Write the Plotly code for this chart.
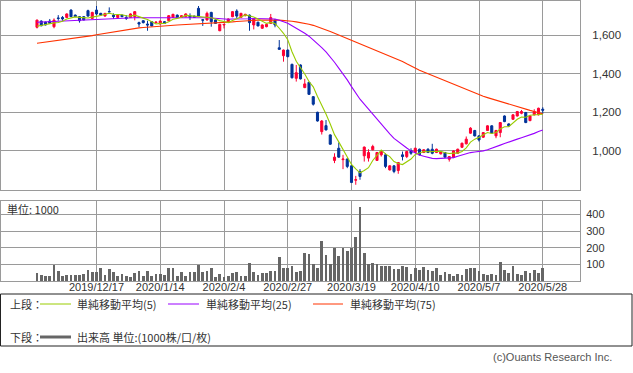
import plotly.graph_objects as go

# ---------------- data ----------------
opens = [1640, 1672, 1667, 1672, 1643, 1688, 1691, 1691, 1729, 1703,
         1695, 1695, 1726, 1686, 1729, 1712, 1698, 1721, 1703, 1691,
         1703, 1691, 1691, 1695, 1664, 1674, 1657, 1669, 1664, 1657,
         1669, 1674, 1691, 1703, 1691, 1695, 1700, 1698, 1738, 1679,
         1678, 1717, 1678, 1622, 1652, 1665, 1695, 1724, 1691, 1700,
         1703, 1652, 1666, 1635, 1643, 1660, 1678, 1534, 1493, 1522,
         1448, 1376, 1445, 1328, 1355, 1281, 1200, 1100, 1131, 1083,
         951, 1014, 955, 958, 923, 849, 894, 975, 963, 1006,
         951, 980, 980, 902, 923, 899, 980, 971, 1002, 992,
         1009, 992, 1009, 1009, 992, 985, 992, 957, 966, 988,
         1019, 1037, 1092, 1106, 1078, 1071, 1106, 1130, 1078, 1095,
         1181, 1140, 1164, 1181, 1195, 1199, 1157, 1187, 1187, 1216]
highs = [1680, 1676, 1669, 1683, 1686, 1703, 1698, 1712, 1733, 1706,
         1698, 1698, 1731, 1720, 1750, 1715, 1714, 1743, 1712, 1706,
         1706, 1703, 1712, 1724, 1669, 1677, 1674, 1672, 1669, 1675,
         1672, 1703, 1710, 1706, 1703, 1712, 1712, 1700, 1750, 1683,
         1721, 1720, 1681, 1658, 1657, 1686, 1724, 1733, 1715, 1710,
         1706, 1686, 1669, 1655, 1658, 1709, 1681, 1574, 1525, 1525,
         1452, 1445, 1448, 1373, 1358, 1284, 1203, 1160, 1160, 1086,
         988, 1044, 980, 962, 926, 871, 906, 1023, 1009, 1032,
         995, 1002, 988, 926, 926, 943, 997, 1000, 1014, 1017,
         1012, 1009, 1014, 1037, 1012, 1000, 995, 974, 1003, 1012,
         1043, 1075, 1123, 1109, 1081, 1098, 1133, 1133, 1109, 1150,
         1184, 1143, 1190, 1207, 1212, 1202, 1184, 1216, 1224, 1226]
lows = [1634, 1645, 1650, 1658, 1635, 1674, 1674, 1688, 1693, 1693,
        1664, 1676, 1695, 1683, 1703, 1700, 1695, 1718, 1683, 1688,
        1692, 1678, 1688, 1676, 1640, 1660, 1622, 1645, 1660, 1655,
        1657, 1672, 1688, 1688, 1688, 1692, 1678, 1688, 1695, 1647,
        1674, 1643, 1657, 1620, 1634, 1662, 1692, 1686, 1688, 1697,
        1622, 1629, 1645, 1632, 1640, 1657, 1640, 1524, 1462, 1485,
        1375, 1359, 1370, 1325, 1290, 1235, 1152, 1085, 1106, 1032,
        937, 965, 906, 911, 834, 825, 851, 945, 945, 1003,
        948, 971, 911, 899, 885, 882, 951, 963, 980, 989,
        977, 989, 989, 983, 989, 982, 965, 945, 963, 985,
        1016, 1034, 1089, 1075, 1049, 1068, 1103, 1089, 1066, 1071,
        1149, 1127, 1161, 1178, 1190, 1144, 1154, 1184, 1184, 1192]
closes = [1677, 1648, 1652, 1660, 1677, 1686, 1683, 1709, 1695, 1695,
          1674, 1678, 1698, 1717, 1709, 1703, 1712, 1720, 1695, 1703,
          1695, 1686, 1709, 1721, 1657, 1664, 1652, 1647, 1667, 1672,
          1660, 1700, 1707, 1691, 1700, 1709, 1691, 1691, 1698, 1677,
          1712, 1669, 1660, 1655, 1655, 1683, 1721, 1698, 1712, 1707,
          1664, 1683, 1647, 1652, 1655, 1690, 1652, 1526, 1522, 1488,
          1379, 1405, 1373, 1347, 1293, 1242, 1155, 1155, 1109, 1035,
          968, 968, 958, 920, 837, 851, 868, 1020, 992, 1023,
          992, 997, 920, 923, 894, 940, 971, 997, 988, 1014,
          980, 1006, 992, 988, 1009, 997, 968, 971, 1000, 1009,
          1040, 1061, 1118, 1078, 1057, 1095, 1130, 1092, 1106, 1147,
          1152, 1130, 1187, 1204, 1204, 1147, 1181, 1204, 1221, 1211]
volumes = [49, 37, 33, 33, 99, 63, 33, 37, 37, 37,
           37, 41, 69, 57, 57, 77, 39, 73, 57, 29,
           43, 33, 23, 51, 63, 33, 63, 29, 45, 45,
           39, 81, 77, 33, 53, 33, 53, 53, 99, 53,
           63, 81, 27, 41, 23, 33, 47, 57, 29, 33,
           111, 57, 39, 51, 51, 63, 63, 147, 81, 79,
           93, 57, 58, 171, 160, 100, 80, 239, 155, 100,
           201, 149, 201, 179, 201, 263, 442, 167, 100, 111,
           105, 92, 88, 90, 72, 72, 92, 84, 42, 78,
           66, 84, 66, 60, 78, 36, 54, 42, 30, 42,
           36, 72, 78, 78, 60, 42, 36, 42, 36, 113,
           66, 48, 90, 42, 36, 60, 48, 66, 48, 78]
ma5 = [1645, 1650, 1655, 1658, 1662.8, 1664.6, 1671.6, 1683, 1690, 1693.6,
       1691.2, 1690.2, 1688, 1692.4, 1695.2, 1701, 1707.8, 1712.2, 1707.8, 1706.6,
       1705, 1699.8, 1697.6, 1702.8, 1693.6, 1687.4, 1680.6, 1668.2, 1657.4, 1660.4,
       1659.6, 1669.2, 1681.2, 1686, 1691.6, 1701.4, 1699.6, 1696.4, 1697.8, 1693.2,
       1693.8, 1689.4, 1683.2, 1674.6, 1670.2, 1664.4, 1674.8, 1682.4, 1693.8, 1704.2,
       1700.4, 1692.8, 1682.6, 1670.6, 1660.2, 1665.4, 1659.2, 1635, 1609, 1575.6,
       1513.4, 1464, 1433.4, 1398.4, 1359.4, 1332, 1282, 1238.4, 1190.8, 1139.2,
       1084.4, 1047, 1007.6, 969.8, 930.2, 906.8, 886.8, 899.2, 913.6, 950.8,
       979, 1004.8, 984.8, 971, 945.2, 934.8, 929.6, 945, 958, 982,
       990, 997, 996, 996, 995, 998.4, 990.8, 986.6, 989, 989,
       997.6, 1016.2, 1045.6, 1061.2, 1070.8, 1081.8, 1095.6, 1090.4, 1096, 1114,
       1125.4, 1125.4, 1144.4, 1164, 1175.4, 1174.4, 1184.6, 1185.6, 1188.2, 1189.6]
ma25 = [1666, 1667, 1668, 1669, 1670, 1671, 1672, 1673, 1674, 1675,
        1676, 1677, 1679, 1681, 1683, 1684, 1685, 1686, 1687, 1688,
        1689, 1690, 1690, 1690, 1690.4, 1689.8, 1690, 1689.8, 1690.1, 1689.9,
        1688.8, 1689.5, 1689.4, 1689.3, 1689.5, 1690.9, 1691.4, 1691.1, 1690.4, 1689.1,
        1689.4, 1687.7, 1685.3, 1683.7, 1681.8, 1681.3, 1682.7, 1682.3, 1681.9, 1683.9,
        1683.9, 1685.2, 1685.2, 1684.6, 1683.9, 1685.1, 1683.2, 1675.9, 1669.2, 1660.7,
        1647.5, 1636, 1623.3, 1609.3, 1593.9, 1575.1, 1554.6, 1534.4, 1512.5, 1487.7,
        1459.1, 1429, 1399.4, 1367.7, 1332.9, 1300.4, 1267.8, 1242.7, 1216.3, 1191,
        1163.1, 1136.9, 1112.7, 1088.7, 1065, 1047.4, 1030, 1015, 1000.6, 989.5,
        979, 973, 966.5, 961.7, 960.6, 961.8, 961.8, 962.3, 965.5, 972.4,
        980, 987.7, 991.6, 995, 996.4, 1000.5, 1005.8, 1012.7, 1020, 1030.2,
        1038.6, 1045, 1052.6, 1061.2, 1068.8, 1075.5, 1082.5, 1091, 1100.3, 1108.4]
ma75 = [1557, 1560, 1562, 1565, 1567, 1570, 1573, 1576, 1580, 1583,
        1587, 1590, 1594, 1597, 1601, 1605, 1609, 1613, 1617, 1621,
        1624, 1628, 1631, 1634, 1637, 1639, 1641, 1643, 1645, 1646,
        1648, 1650, 1651, 1652, 1653, 1654, 1655, 1656, 1657, 1658,
        1660, 1661, 1663, 1664, 1665, 1667, 1668, 1670, 1672, 1674,
        1675, 1676, 1677, 1677, 1678, 1678, 1678, 1677, 1676, 1674,
        1671, 1668, 1665, 1661, 1656, 1650, 1643, 1635, 1627, 1618,
        1609, 1600, 1591, 1581, 1571, 1563, 1555, 1546, 1537, 1528,
        1519, 1510, 1501, 1492, 1483, 1474, 1463, 1451, 1439, 1427,
        1418, 1409, 1400, 1391, 1382, 1373, 1364, 1355, 1346, 1336,
        1326, 1316, 1307, 1298, 1290, 1283, 1276, 1269, 1262, 1256,
        1249, 1242, 1235, 1228, 1222, 1216, 1210, 1204, 1198, 1192]
tick_index = [14, 29, 44, 59, 74, 89, 104, 119]
tick_labels = ["2019/12/17", "2020/1/14", "2020/2/4", "2020/2/27",
               "2020/3/19", "2020/4/10", "2020/5/7", "2020/5/28"]
price_ticks = [1000, 1200, 1400, 1600]
volume_ticks = [100, 200, 300, 400]
legend_labels = ["単純移動平均(5)", "単純移動平均(25)", "単純移動平均(75)"]
volume_label = "出来高 単位:(1000株/口/枚)"

days = list(range(len(closes)))

# ---------------- layout helpers ----------------
W, H = 633, 373
ML, MR, MT, MB = 1, 53, 1, 92
PW = W - ML - MR
PH = H - MT - MB


def px(xp):
    return (xp - ML) / PW


def py(yp):
    return (H - MB - yp) / PH


GRID = "#9a9a9a"
TXT = "#333333"
FONT = "Liberation Sans, Arial, sans-serif"
JFONT = "Noto Sans CJK JP, sans-serif"
C5, C25, C75 = "#99cc00", "#9900ff", "#ff3300"

fig = go.Figure()
fig.add_trace(go.Candlestick(
    x=days, open=opens, high=highs, low=lows, close=closes,
    increasing=dict(line=dict(color="#ff0033", width=1), fillcolor="#ff0033"),
    decreasing=dict(line=dict(color="#003399", width=1), fillcolor="#003399"),
    whiskerwidth=0, xaxis="x", yaxis="y", showlegend=False, hoverinfo="skip"))
for vals, col, name in [(ma75, C75, legend_labels[2]), (ma25, C25, legend_labels[1]),
                        (ma5, C5, legend_labels[0])]:
    fig.add_trace(go.Scatter(x=days, y=vals, mode="lines", name=name,
                             line=dict(color=col, width=1.1),
                             xaxis="x", yaxis="y", showlegend=False))
fig.add_trace(go.Bar(x=days, y=volumes, marker=dict(color="#666666", line=dict(width=0)),
                     width=0.6, xaxis="x2", yaxis="y2", showlegend=False))

axis_common = dict(showgrid=True, gridcolor=GRID, gridwidth=1, showline=True,
                   mirror=True, linecolor=GRID, linewidth=1, zeroline=False)
xr = [(1 - 37) / 4.25, (580 - 37) / 4.25]

fig.update_layout(
    width=W, height=H, margin=dict(l=ML, r=MR, t=MT, b=MB),
    paper_bgcolor="white", plot_bgcolor="white", bargap=0,
    font=dict(family=FONT, size=11, color=TXT),
    xaxis=dict(domain=[0, 1], anchor="y", range=xr, tickvals=tick_index,
               showticklabels=False, ticks="", rangeslider=dict(visible=False),
               **axis_common),
    yaxis=dict(domain=[py(190), 1], anchor="x", range=[798, 1776], side="right",
               tickvals=price_ticks, tickformat=",d", ticks="",
               ticklabelstandoff=9, tickfont=dict(size=11.5, color=TXT),
               **axis_common),
    xaxis2=dict(domain=[0, 1], anchor="y2", range=xr, matches="x",
                tickvals=tick_index, ticktext=tick_labels, ticks="",
                ticklabelstandoff=-4,
                tickfont=dict(size=11, color=TXT), **axis_common),
    yaxis2=dict(domain=[0, py(201)], anchor="x2", range=[0, 481], side="right",
                tickvals=volume_ticks, ticks="", ticklabelstandoff=3,
                tickfont=dict(size=11, color=TXT), **axis_common),
)

shapes = []
annotations = []
# unit label in volume panel
annotations.append(dict(x=px(5), y=py(209), xref="paper", yref="paper", text="単位: 1000",
                        showarrow=False, xanchor="left", yanchor="middle",
                        font=dict(family=JFONT, size=11, color=TXT)))
# legend box
shapes.append(dict(type="rect", xref="paper", yref="paper", x0=px(0.5), x1=px(632),
                   y0=py(346), y1=py(294), line=dict(color="#222222", width=1)))
row1, row2 = 304, 337
annotations.append(dict(x=px(8), y=py(row1), xref="paper", yref="paper", text="上段：",
                        showarrow=False, xanchor="left", yanchor="middle",
                        font=dict(family=JFONT, size=11, color=TXT)))
annotations.append(dict(x=px(8), y=py(row2), xref="paper", yref="paper", text="下段：",
                        showarrow=False, xanchor="left", yanchor="middle",
                        font=dict(family=JFONT, size=11, color=TXT)))
for (x0, x1, tx), col, lab in zip([(40, 71, 75), (168, 199, 204), (313, 343, 348)],
                                  [C5, C25, C75], legend_labels):
    shapes.append(dict(type="line", xref="paper", yref="paper", x0=px(x0), x1=px(x1),
                       y0=py(row1), y1=py(row1), line=dict(color=col, width=1)))
    annotations.append(dict(x=px(tx), y=py(row1), xref="paper", yref="paper", text=lab,
                            showarrow=False, xanchor="left", yanchor="middle",
                            font=dict(family=JFONT, size=11, color=TXT)))
shapes.append(dict(type="line", xref="paper", yref="paper", x0=px(40), x1=px(71),
                   y0=py(row2), y1=py(row2), line=dict(color="#666666", width=3)))
annotations.append(dict(x=px(75), y=py(row2), xref="paper", yref="paper", text=volume_label,
                        showarrow=False, xanchor="left", yanchor="middle",
                        font=dict(family=JFONT, size=11, color=TXT)))
annotations.append(dict(x=px(614), y=py(357), xref="paper", yref="paper",
                        text="(c)Ouants Research Inc.", showarrow=False,
                        xanchor="right", yanchor="middle",
                        font=dict(family=FONT, size=11, color="#555555")))
fig.update_layout(shapes=shapes, annotations=annotations)

fig.write_html("out.html", config={"displayModeBar": False},
               post_script="document.body.style.margin='0';document.body.style.overflow='hidden';")
